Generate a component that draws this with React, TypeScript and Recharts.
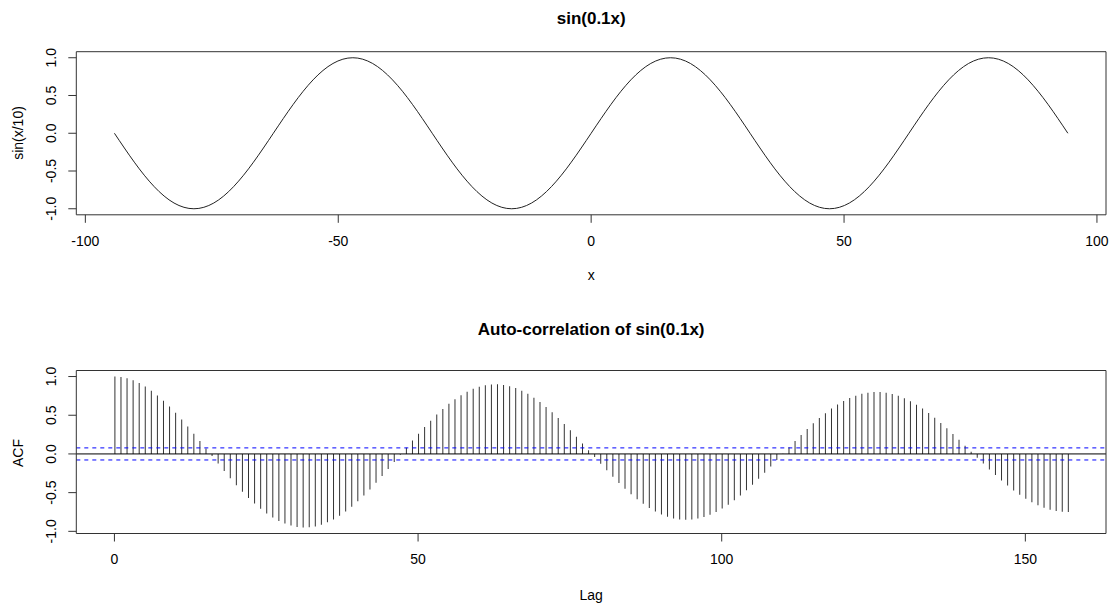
import React from 'react';
import { LineChart, Line, ComposedChart, Bar, XAxis, YAxis, ReferenceLine } from 'recharts';

const FONT = '"Liberation Sans", Arial, Helvetica, sans-serif';

// Top panel: sin(0.1x)
const sinX = [
  -94.25, -90.32, -86.39, -82.47, -78.54, -74.61, -70.69, -66.76, -62.83, -58.9, -54.98, -51.05,
  -47.12, -43.2, -39.27, -35.34, -31.42, -27.49, -23.56, -19.63, -15.71, -11.78, -7.85, -3.93,
  0, 3.93, 7.85, 11.78, 15.71, 19.63, 23.56, 27.49, 31.42, 35.34, 39.27, 43.2, 47.12, 51.05,
  54.98, 58.9, 62.83, 66.76, 70.69, 74.61, 78.54, 82.47, 86.39, 90.32, 94.25,
];
const sinY = [
  0, -0.383, -0.707, -0.924, -1, -0.924, -0.707, -0.383, 0, 0.383, 0.707, 0.924,
  1, 0.924, 0.707, 0.383, 0, -0.383, -0.707, -0.924, -1, -0.924, -0.707, -0.383,
  0, 0.383, 0.707, 0.924, 1, 0.924, 0.707, 0.383, 0, -0.383, -0.707, -0.924, -1, -0.924,
  -0.707, -0.383, 0, 0.383, 0.707, 0.924, 1, 0.924, 0.707, 0.383, 0,
];
const topXTicks = [-100, -50, 0, 50, 100];
const yTicks = [-1, -0.5, 0, 0.5, 1];

// Bottom panel: ACF values for lags 0..157
const acfValues = [
  1.0, 0.993, 0.977, 0.951, 0.915, 0.871, 0.817, 0.756, 0.688, 0.613,
  0.532, 0.446, 0.356, 0.262, 0.166, 0.069, -0.028, -0.125, -0.221, -0.314,
  -0.403, -0.488, -0.568, -0.642, -0.709, -0.769, -0.822, -0.865, -0.9, -0.926,
  -0.943, -0.95, -0.948, -0.936, -0.915, -0.884, -0.846, -0.798, -0.743, -0.681,
  -0.612, -0.537, -0.458, -0.373, -0.286, -0.196, -0.104, -0.011, 0.081, 0.172,
  0.261, 0.347, 0.43, 0.508, 0.58, 0.647, 0.707, 0.759, 0.804, 0.841,
  0.869, 0.888, 0.898, 0.9, 0.892, 0.876, 0.851, 0.817, 0.776, 0.726,
  0.67, 0.607, 0.539, 0.465, 0.387, 0.305, 0.221, 0.135, 0.047, -0.04,
  -0.127, -0.212, -0.295, -0.374, -0.45, -0.521, -0.586, -0.645, -0.698, -0.743,
  -0.781, -0.812, -0.833, -0.846, -0.851, -0.847, -0.835, -0.814, -0.786, -0.749,
  -0.706, -0.655, -0.599, -0.536, -0.469, -0.397, -0.321, -0.242, -0.161, -0.079,
  0.004, 0.086, 0.167, 0.246, 0.323, 0.396, 0.465, 0.527, 0.586, 0.638,
  0.683, 0.722, 0.753, 0.776, 0.792, 0.8, 0.8, 0.791, 0.775, 0.751,
  0.72, 0.682, 0.637, 0.586, 0.529, 0.467, 0.401, 0.331, 0.259, 0.183,
  0.106, 0.029, -0.049, -0.125, -0.2, -0.273, -0.343, -0.409, -0.471, -0.527,
  -0.578, -0.623, -0.662, -0.694, -0.72, -0.738, -0.748, -0.751,
];
const lagTicks = [0, 50, 100, 150];
const ciBound = 0.078;

const sinData = sinX.map((x, i) => ({ x, y: sinY[i] }));
const acfData = acfValues.map((v, i) => ({ lag: i, acf: v }));

const TOP_X_DOMAIN: [number, number] = [-101.79, 101.79];
const TOP_Y_DOMAIN: [number, number] = [-1.08, 1.08];
const BOT_X_DOMAIN: [number, number] = [-6.28, 163.28];
const BOT_Y_DOMAIN: [number, number] = [-1.028, 1.078];

const AX = '#333';
const tickStyle = { fontSize: 14, fill: '#000', fontFamily: FONT };

const LEFT_W = 60;
const BOT_H = 60;
const EDGE = 4;

const RotTick = (props: any) => {
  const { x, y, payload } = props;
  return (
    <text
      x={x}
      y={y}
      transform={`rotate(-90, ${x}, ${y})`}
      textAnchor="middle"
      fontSize={14}
      fontFamily={FONT}
      fill="#000"
    >
      {Number(payload.value).toFixed(1)}
    </text>
  );
};

export default function App() {
  return (
    <div style={{ position: 'absolute', left: 0, top: 0, width: 1118, height: 608, background: '#fff' }}>
      <div style={{ position: 'absolute', left: 0, top: 0 }}>
        <LineChart
          width={1118}
          height={304}
          data={sinData}
          margin={{ top: 51.7 - EDGE, right: 12 - EDGE, bottom: 89.2 - BOT_H, left: 76.3 - LEFT_W }}
        >
          <XAxis
            dataKey="x"
            type="number"
            domain={TOP_X_DOMAIN}
            allowDataOverflow
            ticks={topXTicks}
            interval={0}
            height={BOT_H}
            tickSize={8}
            tickMargin={13}
            stroke={AX}
            tick={tickStyle}
          />
          <XAxis
            xAxisId="top"
            orientation="top"
            type="number"
            domain={TOP_X_DOMAIN}
            allowDataOverflow
            height={EDGE}
            tick={false}
            tickLine={false}
            stroke={AX}
          />
          <YAxis
            type="number"
            domain={TOP_Y_DOMAIN}
            allowDataOverflow
            ticks={yTicks}
            interval={0}
            width={LEFT_W}
            tickSize={8}
            tickMargin={12}
            stroke={AX}
            tick={<RotTick />}
          />
          <YAxis
            yAxisId="right"
            orientation="right"
            type="number"
            domain={TOP_Y_DOMAIN}
            allowDataOverflow
            width={EDGE}
            tick={false}
            tickLine={false}
            stroke={AX}
          />
          <Line
            type="natural"
            dataKey="y"
            stroke="#222"
            strokeWidth={1}
            dot={false}
            isAnimationActive={false}
          />
        </LineChart>
      </div>
      <div style={{ position: 'absolute', left: 0, top: 304 }}>
        <ComposedChart
          width={1118}
          height={304}
          data={acfData}
          margin={{ top: 66.5 - EDGE, right: 12 - EDGE, bottom: 74.5 - BOT_H, left: 76.3 - LEFT_W }}
        >
          <XAxis
            dataKey="lag"
            type="number"
            domain={BOT_X_DOMAIN}
            allowDataOverflow
            ticks={lagTicks}
            interval={0}
            height={BOT_H}
            tickSize={8}
            tickMargin={13}
            stroke={AX}
            tick={tickStyle}
          />
          <XAxis
            xAxisId="top"
            orientation="top"
            type="number"
            domain={BOT_X_DOMAIN}
            allowDataOverflow
            height={EDGE}
            tick={false}
            tickLine={false}
            stroke={AX}
          />
          <YAxis
            type="number"
            domain={BOT_Y_DOMAIN}
            allowDataOverflow
            ticks={yTicks}
            interval={0}
            width={LEFT_W}
            tickSize={8}
            tickMargin={12}
            stroke={AX}
            tick={<RotTick />}
          />
          <YAxis
            yAxisId="right"
            orientation="right"
            type="number"
            domain={BOT_Y_DOMAIN}
            allowDataOverflow
            width={EDGE}
            tick={false}
            tickLine={false}
            stroke={AX}
          />
          <Bar dataKey="acf" barSize={1} fill="#333" isAnimationActive={false} />
          <ReferenceLine y={0} stroke="#000" strokeWidth={1} />
          <ReferenceLine y={ciBound} stroke="#0000ff" strokeWidth={1} strokeDasharray="4 4" />
          <ReferenceLine y={-ciBound} stroke="#0000ff" strokeWidth={1} strokeDasharray="4 4" />
        </ComposedChart>
      </div>
      <svg
        width={1118}
        height={608}
        style={{ position: 'absolute', left: 0, top: 0, pointerEvents: 'none' }}
        fontFamily={FONT}
      >
        <text x={591.2} y={23.5} textAnchor="middle" fontSize={17} fontWeight="bold" fill="#000">
          sin(0.1x)
        </text>
        <text x={591.2} y={334.7} textAnchor="middle" fontSize={17} fontWeight="bold" fill="#000">
          Auto-correlation of sin(0.1x)
        </text>
        <text x={591.2} y={280} textAnchor="middle" fontSize={14} fill="#000">
          x
        </text>
        <text x={591.2} y={600} textAnchor="middle" fontSize={14} fill="#000">
          Lag
        </text>
        <text
          x={22.5}
          y={133}
          textAnchor="middle"
          fontSize={14}
          fill="#000"
          transform="rotate(-90, 22.5, 133)"
        >
          sin(x/10)
        </text>
        <text
          x={22.5}
          y={453}
          textAnchor="middle"
          fontSize={14}
          fill="#000"
          transform="rotate(-90, 22.5, 453)"
        >
          ACF
        </text>
      </svg>
    </div>
  );
}
